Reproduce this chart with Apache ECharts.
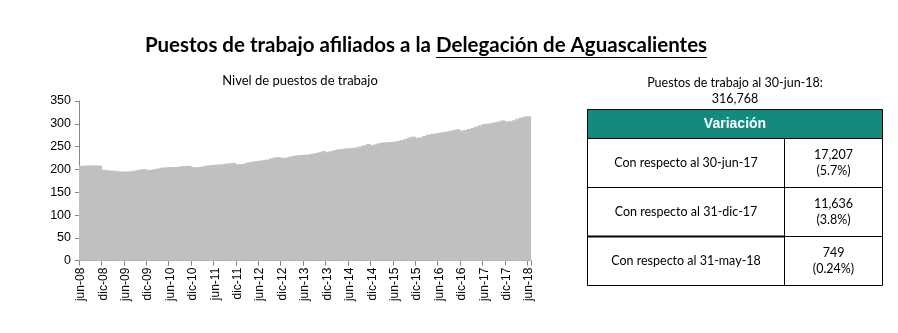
<!DOCTYPE html>
<html>
<head>
<meta charset="utf-8">
<script src="https://cdn.jsdelivr.net/npm/echarts@6/dist/echarts.min.js"></script>
<style>
  html, body { margin: 0; padding: 0; background: #ffffff; }
  #chart { width: 898px; height: 333px; }
</style>
</head>
<body>
<div id="chart"></div>
<script>
// Month abbreviations used for the category labels (Spanish)
const monthNames = ['ene', 'feb', 'mar', 'abr', 'may', 'jun', 'jul', 'ago', 'sep', 'oct', 'nov', 'dic'];

// Monthly categories from jun-08 to jun-18
const categories = [];
for (let y = 2008; y <= 2018; y++) {
  for (let m = 0; m < 12; m++) {
    if (y === 2008 && m < 5) continue;
    if (y === 2018 && m > 5) break;
    categories.push(monthNames[m] + '-' + String(y).slice(2));
  }
}

// Affiliated jobs, thousands, end of each month
const puestos = [
  208.0, 208.3, 208.6, 208.9, 209.0, 208.4,            // jun-08 .. nov-08
  199.6, 198.4, 197.6, 197.0, 196.1, 195.4,            // dic-08 .. may-09
  195.0, 195.6, 196.6, 198.0, 199.6, 200.6,            // jun-09 .. nov-09
  198.5, 199.2, 201.0, 202.2, 204.0, 204.6,            // dic-09 .. may-10
  205.0, 205.2, 205.6, 207.0, 207.6, 208.0,            // jun-10 .. nov-10
  205.0, 204.6, 205.6, 207.1, 208.6, 209.6,            // dic-10 .. may-11
  210.4, 210.6, 211.2, 212.6, 213.6, 214.2,            // jun-11 .. nov-11
  211.2, 211.6, 213.2, 215.6, 217.0, 218.2,            // dic-11 .. may-12
  219.2, 220.2, 221.6, 224.0, 226.2, 227.2,            // jun-12 .. nov-12
  225.0, 225.6, 227.6, 229.6, 231.0, 231.6,            // dic-12 .. may-13
  232.0, 232.6, 234.0, 235.6, 237.6, 240.2,            // jun-13 .. nov-13
  238.0, 240.0, 242.2, 244.0, 245.0, 246.0,            // dic-13 .. may-14
  246.6, 247.2, 248.6, 250.6, 253.0, 255.6,            // jun-14 .. nov-14
  253.0, 255.0, 257.6, 259.0, 259.6, 260.2,            // dic-14 .. may-15
  261.0, 262.6, 264.2, 266.6, 270.0, 272.0,            // jun-15 .. nov-15
  269.0, 270.6, 273.0, 276.0, 277.6, 279.0,            // dic-15 .. may-16
  280.6, 281.6, 282.6, 284.2, 286.6, 288.2,            // jun-16 .. nov-16
  285.0, 286.2, 288.6, 291.6, 294.0, 296.8,            // dic-16 .. may-17
  299.561, 300.4, 302.0, 303.6, 305.2, 307.2,          // jun-17 .. nov-17
  305.132, 305.6, 307.6, 311.0, 313.6, 316.019,        // dic-17 .. may-18
  316.768                                              // jun-18
];

// Y axis ticks
const yTicks = { min: 0, max: 350, interval: 50 };

// Summary table
const totalLabel = 'Puestos de trabajo al 30-jun-18:';
const totalValue = '316,768';
const tableHeader = 'Variación';
const tableRows = ['Con respecto al 30-jun-17', 'Con respecto al 31-dic-17', 'Con respecto al 31-may-18'];
const tableAbs = ['17,207', '11,636', '749'];
const tablePct = ['(5.7%)', '(3.8%)', '(0.24%)'];

const titleText = 'Puestos de trabajo afiliados a la Delegación de Aguascalientes';
const titleUnderlined = 'Delegación de Aguascalientes';
const chartSubtitle = 'Nivel de puestos de trabajo';

const bodyFont = 'Lato, "Open Sans", sans-serif';
const axisFont = '"Liberation Sans", Arial, sans-serif';

// measure text width for the title underline
const measureCtx = document.createElement('canvas').getContext('2d');
function textWidth(str, font) {
  measureCtx.font = font;
  return measureCtx.measureText(str).width;
}

const titleFont = 'bold 20.5px ' + bodyFont;
const titleCx = 426, titleCy = 45;
const fullW = textWidth(titleText, titleFont);
const underW = textWidth(titleUnderlined, titleFont);
const underEnd = titleCx + fullW / 2;
const underStart = underEnd - underW;

// table geometry
const tL = 587.5, tR = 882.5, tMid = 784.5;
const tTop = 109.5, hdrBottom = 138.5;
const rowBottoms = [187.5, 236.5, 285.5];

const textStyle = (x, y, text, font, fill) => ({
  type: 'text',
  style: { x, y, text, font, fill: fill || '#000', textAlign: 'center', textVerticalAlign: 'middle' }
});

const graphics = [];
graphics.push(textStyle(titleCx, titleCy, titleText, titleFont));
graphics.push({
  type: 'line',
  shape: { x1: Math.round(underStart), y1: 57.5, x2: Math.round(underEnd), y2: 57.5 },
  style: { stroke: '#000', lineWidth: 1 }
});
graphics.push(textStyle(300, 81, chartSubtitle, '13px ' + bodyFont));
graphics.push(textStyle(735, 83, totalLabel, '12.5px ' + bodyFont));
graphics.push(textStyle(735, 99, totalValue, '12.5px ' + bodyFont));
// header band
graphics.push({
  type: 'rect',
  shape: { x: tL, y: tTop, width: tR - tL, height: hdrBottom - tTop },
  style: { fill: '#138a7e', stroke: '#000', lineWidth: 1 }
});
graphics.push(textStyle((tL + tR) / 2, 124, tableHeader, 'bold 14px ' + axisFont, '#ffffff'));
// body frame
graphics.push({
  type: 'rect',
  shape: { x: tL, y: hdrBottom, width: tR - tL, height: rowBottoms[2] - hdrBottom },
  style: { fill: 'none', stroke: '#000', lineWidth: 1 }
});
graphics.push({
  type: 'line',
  shape: { x1: tMid, y1: hdrBottom, x2: tMid, y2: rowBottoms[2] },
  style: { stroke: '#000', lineWidth: 1 }
});
graphics.push({
  type: 'line',
  shape: { x1: tL, y1: rowBottoms[0], x2: tR, y2: rowBottoms[0] },
  style: { stroke: '#000', lineWidth: 1 }
});
graphics.push({
  type: 'line',
  shape: { x1: tL, y1: rowBottoms[1], x2: tMid, y2: rowBottoms[1] },
  style: { stroke: '#000', lineWidth: 2 }
});
graphics.push({
  type: 'line',
  shape: { x1: tMid, y1: rowBottoms[1], x2: tR, y2: rowBottoms[1] },
  style: { stroke: '#000', lineWidth: 1 }
});
let rowTop = hdrBottom;
tableRows.forEach((label, i) => {
  const cy = (rowTop + rowBottoms[i]) / 2;
  graphics.push(textStyle((tL + tMid) / 2, cy, label, '12.5px ' + bodyFont));
  graphics.push(textStyle((tMid + tR) / 2, cy - 8, tableAbs[i], '12.5px ' + bodyFont));
  graphics.push(textStyle((tMid + tR) / 2, cy + 8, tablePct[i], '12.5px ' + bodyFont));
  rowTop = rowBottoms[i];
});

const chart = echarts.init(document.getElementById('chart'), null, { renderer: 'canvas' });
chart.setOption({
  animation: false,
  backgroundColor: '#ffffff',
  grid: { left: 79, top: 101, width: 452, height: 159.7, containLabel: false },
  xAxis: {
    type: 'category',
    data: categories,
    boundaryGap: true,
    axisLine: { show: true, lineStyle: { color: '#868686', width: 1 } },
    axisTick: { show: true, length: 5, interval: (i) => i % 6 === 0, lineStyle: { color: '#868686' } },
    axisLabel: {
      interval: (i) => i % 6 === 0,
      rotate: 90,
      margin: 7,
      color: '#000',
      fontFamily: axisFont,
      fontSize: 12
    },
    splitLine: { show: false }
  },
  yAxis: {
    type: 'value',
    min: yTicks.min,
    max: yTicks.max,
    interval: yTicks.interval,
    axisLine: { show: true, lineStyle: { color: '#868686', width: 1 } },
    axisTick: { show: true, length: 4, lineStyle: { color: '#868686' } },
    axisLabel: { color: '#000', fontFamily: axisFont, fontSize: 12.5, margin: 8 },
    splitLine: { show: false }
  },
  series: [{
    type: 'bar',
    data: puestos,
    // bars slightly wider than a category so neighbours overlap and no seams show
    barWidth: '130%',
    barGap: '-100%',
    itemStyle: { color: '#c0c0c0', borderWidth: 0 },
    emphasis: { disabled: true }
  }],
  graphic: graphics
});
</script>
</body>
</html>
